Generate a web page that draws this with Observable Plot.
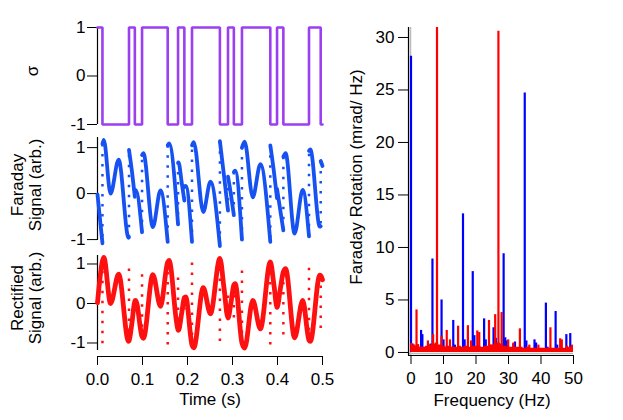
<!DOCTYPE html>
<html><head><meta charset="utf-8">
<script src="https://cdn.jsdelivr.net/npm/d3@7"></script>
<script src="https://cdn.jsdelivr.net/npm/@observablehq/plot@0.6"></script>
<style>
body{margin:0;background:#fff;}
#wrap{position:relative;width:623px;height:420px;overflow:hidden;font-family:"Liberation Sans",Arial,sans-serif;background:#fff;}
#wrap svg{position:absolute;left:0;top:0;background:transparent !important;overflow:visible;}
.lbl{position:absolute;font-size:17px;line-height:18px;color:#000;white-space:nowrap;text-align:center;}
.rot{transform:translate(-50%,-50%) rotate(-90deg);}
.hc{transform:translateX(-50%);}
</style></head><body><div id="wrap"></div>
<script>
// ---- data ----
const flipTimes = [0.011,0.070,0.083,0.099,0.156,0.179,0.193,0.210,0.272,0.290,0.303,0.321,0.384,0.399,0.413,0.470,0.496];
const sigmaLevels = [1,-1,1,-1,1,-1,1,-1,1,-1,1,-1,1,-1,1,-1,1,-1];
const rectT = [0.000,0.011,0.014,0.029,0.047,0.069,0.070,0.077,0.083,0.085,0.099,0.102,0.123,0.140,0.156,0.159,0.179,0.180,0.187,0.193,0.196,0.210,0.214,0.235,0.251,0.272,0.281,0.290,0.297,0.303,0.306,0.321,0.327,0.345,0.362,0.384,0.392,0.399,0.406,0.413,0.418,0.438,0.456,0.470,0.473,0.494,0.496,0.500];
const rectV = [0.02,1.08,1.17,0.00,0.74,-0.96,-0.95,-0.45,0.07,0.08,-0.84,-0.88,0.73,-0.07,1.05,1.09,-0.67,-0.68,-0.25,0.15,0.17,-1.05,-1.12,0.40,-0.26,1.14,0.40,-0.37,0.05,0.47,0.50,-1.00,-1.13,0.08,-0.64,1.05,0.48,-0.10,0.35,0.80,0.88,-0.87,0.08,-0.93,-0.96,0.72,0.71,0.60];
const timeTicks = [0,0.1,0.2,0.3,0.4,0.5];
const signalTicks = [-1,0,1];

const blueFreq = [0.0,0.5,3.1,3.5,4.5,6.0,6.6,7.2,9.4,10.0,11.0,13.0,13.5,16.0,16.5,19.0,19.5,21.0,22.5,23.0,25.4,26.1,28.5,29.0,29.5,31.5,32.0,35.0,35.5,38.0,38.5,41.5,42.0,44.5,45.0,47.8,49.0];
const blueAmp  = [28.2,0.8,2.1,1.7,0.5,0.8,8.9,0.7,5.0,1.2,0.6,3.05,0.7,13.2,1.2,7.7,1.6,0.6,3.2,1.2,2.35,1.35,9.4,1.4,1.1,0.8,1.0,24.7,1.1,1.2,0.9,4.7,0.5,3.9,0.7,1.7,1.8];
const redFreq = [0.1,1.7,2.2,5.2,6.8,8.0,9.4,11.0,12.0,14.5,17.5,18.5,20.4,21.0,24.0,24.5,25.9,26.9,27.9,29.9,31.5,33.5,36.4,39.2,42.9,45.9,46.4,48.0,49.5];
const redAmp  = [0.85,4.05,0.75,1.1,1.7,31,1.55,2.1,1.2,2.5,2.55,1.1,2.05,1.9,3.05,0.7,3.6,30.6,3.8,1.2,0.9,2.25,0.7,0.7,2.35,1.3,1.2,0.6,0.7];
const floorFreq = d3.range(0, 51);
const redFloor = [0.8,0.7,0.6,0.5,0.5,0.6,0.7,0.8,0.9,0.7,0.6,0.5,0.6,0.5,0.5,0.6,0.5,0.6,0.5,0.6,0.6,0.5,0.5,0.6,0.6,0.7,0.8,0.9,0.8,0.6,0.5,0.5,0.5,0.5,0.5,0.4,0.5,0.4,0.4,0.4,0.4,0.4,0.4,0.4,0.4,0.4,0.4,0.4,0.4,0.5,0.6];
const freqTicks = [0,10,20,30,40,50];
const rotTicks = [0,5,10,15,20,25,30];

// ---- styles ----
const purple = "#9b3ff0", sigBlue = "#1652f2", sigRed = "#ff1010";
const W = 623, H = 420;
const font = '"Liberation Sans", Arial, sans-serif';
const base = {width: W, height: H, style: {fontFamily: font, fontSize: "17px", color: "#000", background: "transparent", overflow: "visible"}};

// ---- derived tables ----
const rect = rectT.map((t, i) => ({t, v: rectV[i]}));
const rAt = new Map(rect.map(d => [d.t, d.v]));
const bounds = [0, ...flipTimes, 0.5];
const sigmaPts = bounds.map((t, i) => ({t, s: sigmaLevels[Math.min(i, sigmaLevels.length - 1)]}));
const farPts = [];
for (let i = 0; i < bounds.length - 1; i++) {
  for (const d of rect) if (d.t >= bounds[i] && d.t <= bounds[i + 1]) farPts.push({t: d.t, v: -sigmaLevels[i] * d.v, seg: i});
}
const jumps = flipTimes.map(t => ({t, a: rAt.get(t), b: -rAt.get(t)}));
const blue = blueFreq.map((f, i) => ({f, a: blueAmp[i]}));
const red = redFreq.map((f, i) => ({f, a: redAmp[i]}));
const floor = floorFreq.map((f, i) => ({f, a: redFloor[i]}));

const wrap = document.getElementById("wrap");
const yAxisOpts = {ticks: signalTicks, tickSize: 10, tickPadding: 2, tickFormat: d => String(d), label: null};
const dotted = {strokeWidth: 2.5, strokeDasharray: "2.5,7.5"};

// Panel 1: sigma
wrap.append(Plot.plot({...base, marginLeft: 97, marginRight: 301, marginTop: 27, marginBottom: 296,
  x: {domain: [0, 0.5], axis: null},
  y: {domain: [-1, 1], ...yAxisOpts},
  marks: [
    Plot.ruleX([0], {y1: -1, y2: 1, stroke: "#000", strokeWidth: 1.2}),
    Plot.line(sigmaPts, {x: "t", y: "s", curve: "step-after", stroke: purple, strokeWidth: 2.6, strokeLinejoin: "miter"})
  ]}));

// Panel 2: Faraday signal
wrap.append(Plot.plot({...base, marginLeft: 97, marginRight: 301, marginTop: 137, marginBottom: 180,
  x: {domain: [0, 0.5], axis: null},
  y: {domain: [-1.02, 1.22], ...yAxisOpts},
  marks: [
    Plot.ruleX([0], {y1: -1.02, y2: 1.22, stroke: "#000", strokeWidth: 1.2}),
    Plot.link(jumps, {x1: "t", x2: "t", y1: "a", y2: "b", stroke: sigBlue, ...dotted}),
    Plot.line(farPts, {x: "t", y: "v", z: "seg", curve: "monotone-x", stroke: sigBlue, strokeWidth: 3.8})
  ]}));

// Panel 3: rectified signal
wrap.append(Plot.plot({...base, marginLeft: 97, marginRight: 301, marginTop: 255, marginBottom: 64,
  x: {domain: [0, 0.5], ticks: timeTicks, tickSize: 9, tickPadding: 7, tickFormat: d3.format(".1f"), label: null},
  y: {domain: [-1.342, 1.215], ...yAxisOpts},
  marks: [
    Plot.ruleX([0], {y1: -1.19, y2: 1.215, stroke: "#000", strokeWidth: 1.2}),
    Plot.ruleY([-1.342], {x1: 0, x2: 0.5, stroke: "#000", strokeWidth: 1.2}),
    Plot.link(jumps, {x1: "t", x2: "t", y1: "a", y2: "b", stroke: sigRed, ...dotted}),
    Plot.line(rect, {x: "t", y: "v", curve: "monotone-x", stroke: sigRed, strokeWidth: 4.8})
  ]}));

// Panel 4: spectrum
wrap.append(Plot.plot({...base, marginLeft: 408, marginRight: 50, marginTop: 27, marginBottom: 65,
  x: {domain: [-0.77, 50], ticks: freqTicks, tickSize: 9, tickPadding: 7, tickFormat: d => String(d), label: null},
  y: {domain: [-0.29, 30.95], ticks: rotTicks, tickSize: 10, tickPadding: 4, tickFormat: d => String(d), label: null},
  marks: [
    Plot.ruleX([-0.77], {y1: -0.29, y2: 30.95, stroke: "#bbb", strokeWidth: 1.5, dx: 2}),
    Plot.ruleY([-0.29], {x1: -0.77, x2: 50, stroke: "#bbb", strokeWidth: 1.5, dy: -2}),
    Plot.ruleX(blue, {x: "f", y1: 0, y2: "a", stroke: "#0000ff", strokeWidth: 2.2, clip: true}),
    Plot.areaY(floor, {x: "f", y: "a", curve: "step", fill: "#ff0000"}),
    Plot.ruleX(red, {x: "f", y1: 0, y2: "a", stroke: "#ff0000", strokeWidth: 2.2, clip: true}),
    Plot.ruleX([-0.77], {y1: -0.29, y2: 30.95, stroke: "#000", strokeWidth: 1.2}),
    Plot.ruleY([-0.29], {x1: -0.77, x2: 50, stroke: "#000", strokeWidth: 1.2})
  ]}));

// ---- text labels ----
function label(html, x, y, cls) {
  const d = document.createElement("div");
  d.className = "lbl " + cls;
  d.style.left = x + "px"; d.style.top = y + "px";
  d.innerHTML = html;
  wrap.append(d);
}
label("σ", 33, 71, "rot");
label("Faraday<br>Signal (arb.)", 27, 185, "rot");
label("Rectified<br>Signal (arb.)", 27, 298, "rot");
label("Faraday Rotation (mrad/ Hz)", 357, 177, "rot");
label("Time (s)", 210, 391, "hc");
label("Frequency (Hz)", 492, 392, "hc");
</script></body></html>
